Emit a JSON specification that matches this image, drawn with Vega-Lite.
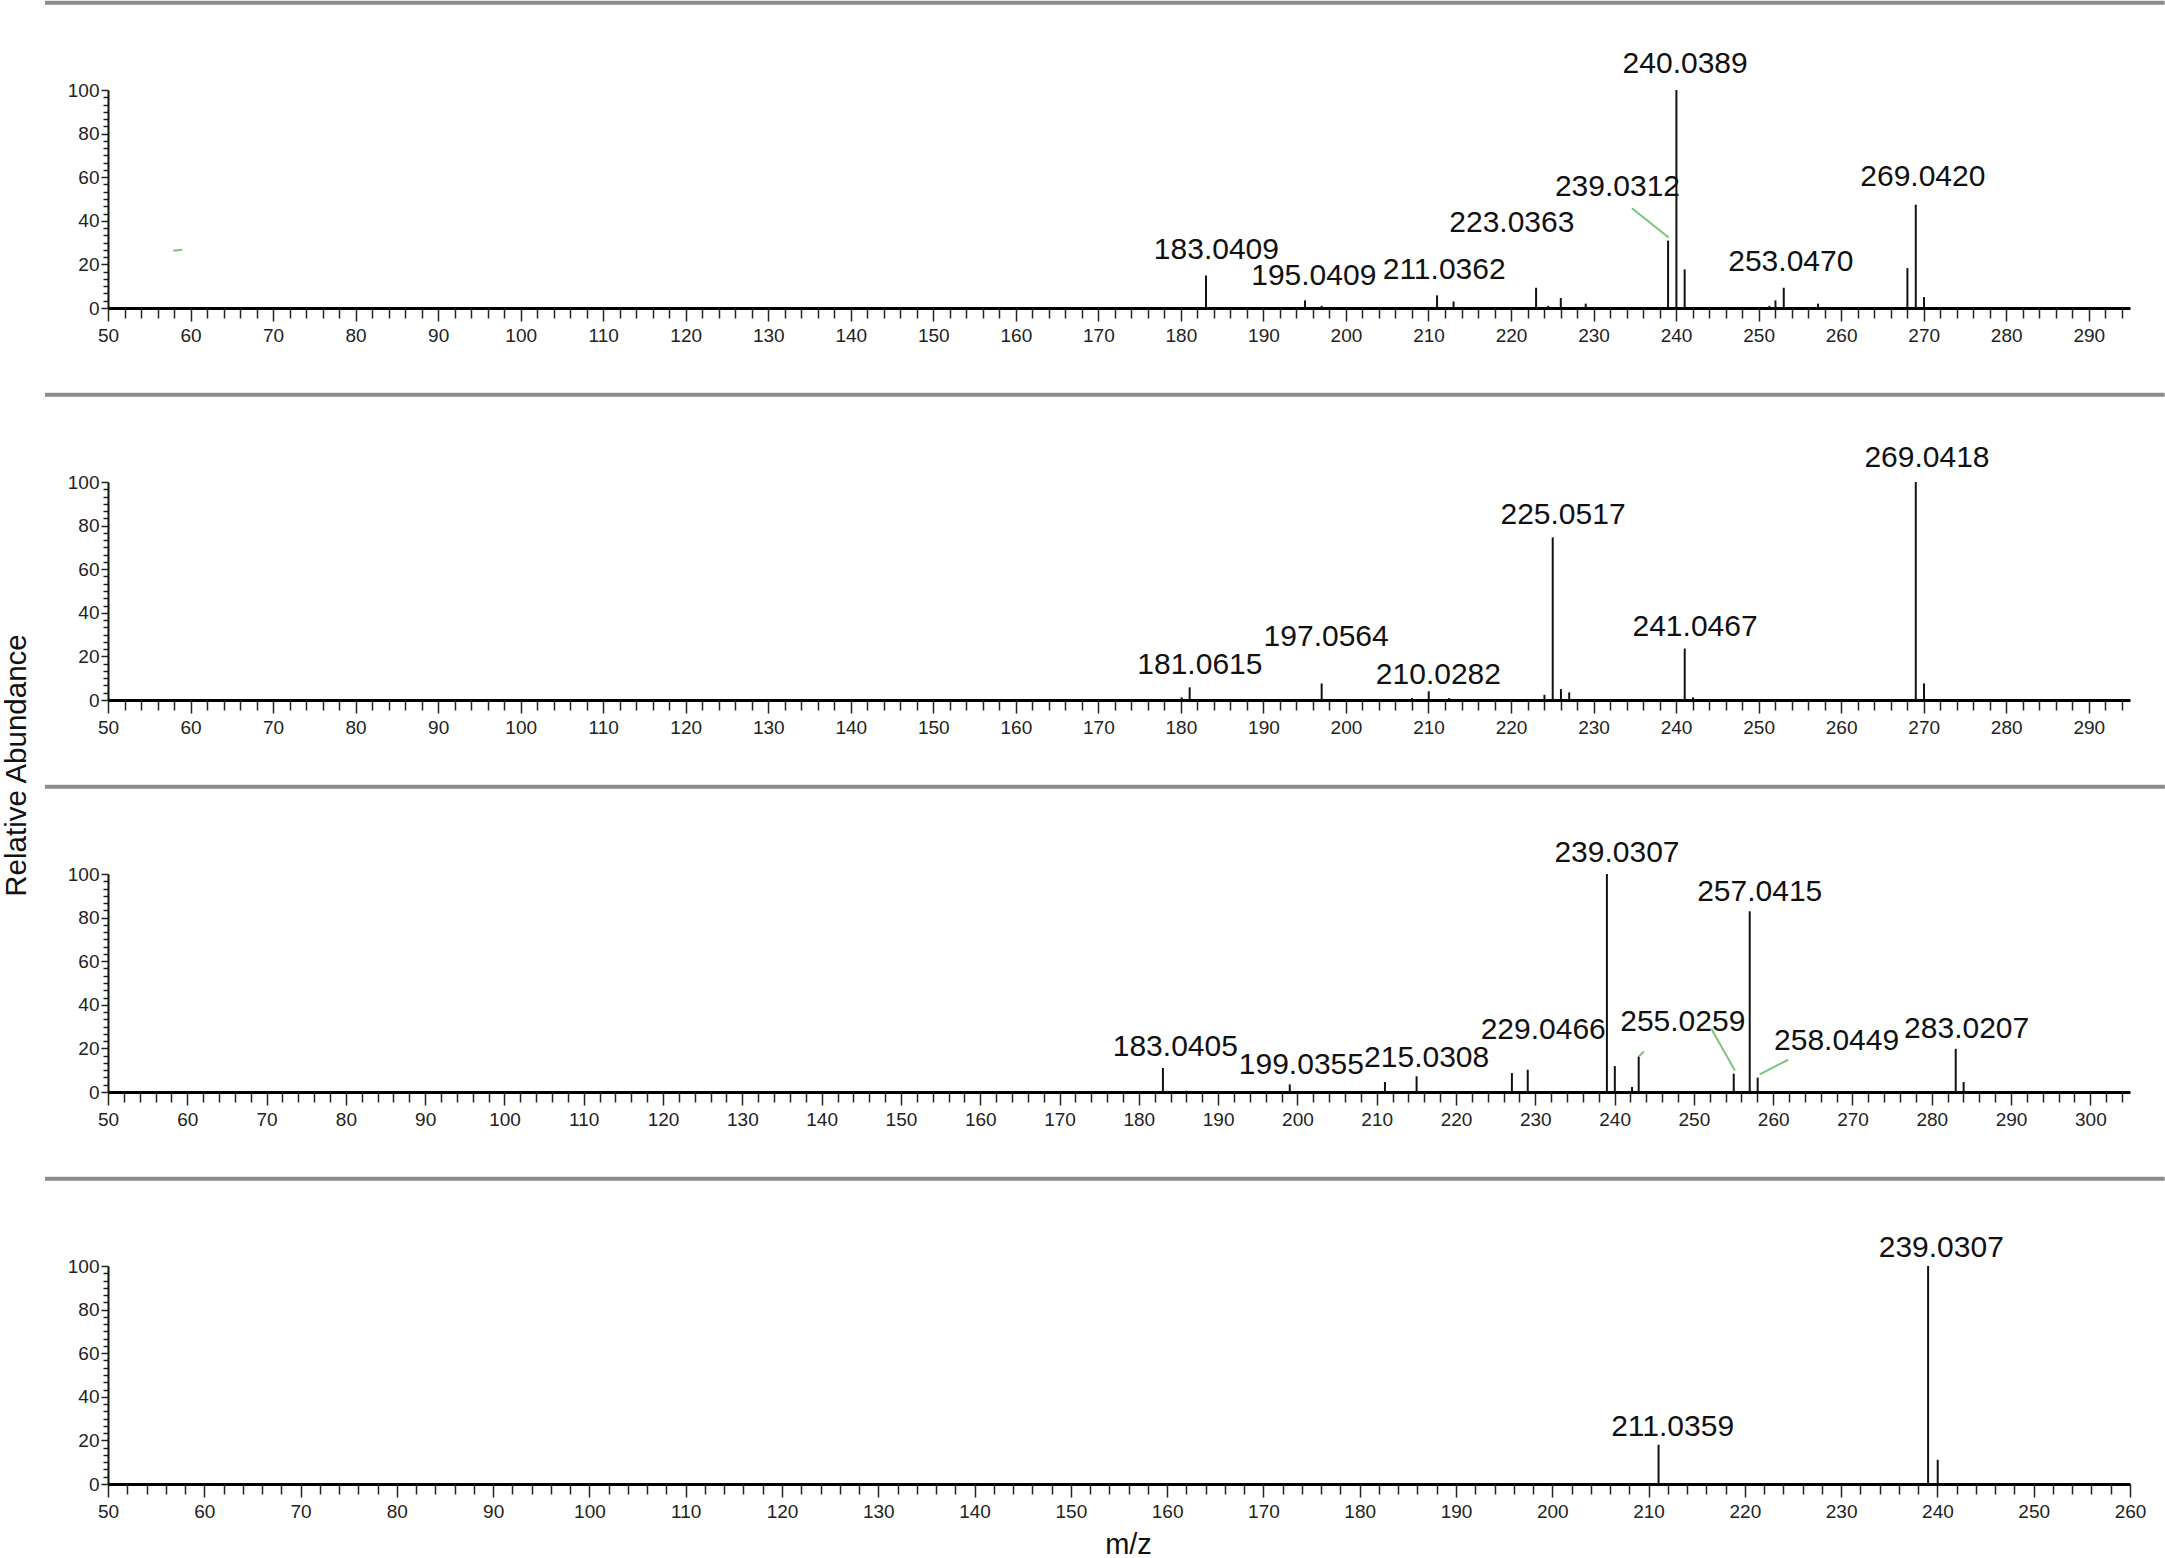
{
  "$schema": "https://vega.github.io/schema/vega-lite/v6.json",
  "padding": 0,
  "autosize": {"type": "pad"},
  "background": "white",
  "config": {
    "view": {"stroke": null},
    "axis": {
      "grid": false,
      "domainColor": "#111",
      "tickColor": "#222",
      "labelColor": "#222",
      "labelFont": "Liberation Sans Narrow, Liberation Sans, Arial, sans-serif",
      "labelFontSize": 19,
      "titleFont": "Liberation Sans, Arial, sans-serif",
      "titleFontWeight": "normal",
      "titleColor": "#111",
      "titleFontSize": 29.5
    }
  },
  "datasets": {
    "peaks": [
      {"panel": 1, "mz": 183.0409, "intensity": 14.9},
      {"panel": 1, "mz": 195.0409, "intensity": 3.5},
      {"panel": 1, "mz": 197.05, "intensity": 1.0},
      {"panel": 1, "mz": 211.0362, "intensity": 5.8},
      {"panel": 1, "mz": 213.04, "intensity": 3.0},
      {"panel": 1, "mz": 223.0363, "intensity": 9.3},
      {"panel": 1, "mz": 224.5, "intensity": 1.0},
      {"panel": 1, "mz": 226.03, "intensity": 4.6},
      {"panel": 1, "mz": 229.05, "intensity": 2.0},
      {"panel": 1, "mz": 239.0312, "intensity": 30.9},
      {"panel": 1, "mz": 240.0389, "intensity": 100},
      {"panel": 1, "mz": 241.04, "intensity": 17.7},
      {"panel": 1, "mz": 251.3, "intensity": 1.0},
      {"panel": 1, "mz": 252.04, "intensity": 3.5},
      {"panel": 1, "mz": 253.047, "intensity": 9.3},
      {"panel": 1, "mz": 257.2, "intensity": 2.0},
      {"panel": 1, "mz": 268.03, "intensity": 18.3},
      {"panel": 1, "mz": 269.042, "intensity": 47.4},
      {"panel": 1, "mz": 270.04, "intensity": 5.0},
      {"panel": 2, "mz": 180.1, "intensity": 1.2},
      {"panel": 2, "mz": 181.0615, "intensity": 5.8},
      {"panel": 2, "mz": 197.0564, "intensity": 7.6},
      {"panel": 2, "mz": 208.0, "intensity": 0.9},
      {"panel": 2, "mz": 210.0282, "intensity": 4.0},
      {"panel": 2, "mz": 212.5, "intensity": 0.9},
      {"panel": 2, "mz": 224.05, "intensity": 2.4},
      {"panel": 2, "mz": 225.0517, "intensity": 74.6},
      {"panel": 2, "mz": 226.05, "intensity": 5.0},
      {"panel": 2, "mz": 227.05, "intensity": 3.5},
      {"panel": 2, "mz": 241.0467, "intensity": 23.6},
      {"panel": 2, "mz": 242.05, "intensity": 1.2},
      {"panel": 2, "mz": 269.0418, "intensity": 100},
      {"panel": 2, "mz": 270.04, "intensity": 7.6},
      {"panel": 3, "mz": 183.0405, "intensity": 11.0},
      {"panel": 3, "mz": 186.0, "intensity": 0.6},
      {"panel": 3, "mz": 199.0355, "intensity": 3.5},
      {"panel": 3, "mz": 211.04, "intensity": 4.6},
      {"panel": 3, "mz": 215.0308, "intensity": 7.2},
      {"panel": 3, "mz": 227.05, "intensity": 8.7},
      {"panel": 3, "mz": 229.0466, "intensity": 10.2},
      {"panel": 3, "mz": 239.0307, "intensity": 100},
      {"panel": 3, "mz": 240.03, "intensity": 11.9},
      {"panel": 3, "mz": 242.2, "intensity": 2.3},
      {"panel": 3, "mz": 243.04, "intensity": 16.3},
      {"panel": 3, "mz": 255.0259, "intensity": 8.4},
      {"panel": 3, "mz": 257.0415, "intensity": 82.9},
      {"panel": 3, "mz": 258.0449, "intensity": 6.6},
      {"panel": 3, "mz": 283.0207, "intensity": 19.8},
      {"panel": 3, "mz": 284.02, "intensity": 4.6},
      {"panel": 4, "mz": 211.0359, "intensity": 18.0},
      {"panel": 4, "mz": 239.0307, "intensity": 100},
      {"panel": 4, "mz": 240.03, "intensity": 11.1}
    ],
    "labels": [
      {"panel": 1, "label": "183.0409", "label_mz": 184.3, "label_y": 22.4},
      {"panel": 1, "label": "195.0409", "label_mz": 196.1, "label_y": 10.4},
      {"panel": 1, "label": "211.0362", "label_mz": 211.9, "label_y": 13.2},
      {"panel": 1, "label": "223.0363", "label_mz": 220.1, "label_y": 35.0},
      {"panel": 1, "label": "239.0312", "label_mz": 232.9, "label_y": 51.2},
      {"panel": 1, "label": "240.0389", "label_mz": 241.1, "label_y": 108.0},
      {"panel": 1, "label": "253.0470", "label_mz": 253.9, "label_y": 16.9},
      {"panel": 1, "label": "269.0420", "label_mz": 269.9, "label_y": 55.8},
      {"panel": 2, "label": "181.0615", "label_mz": 182.3, "label_y": 11.8},
      {"panel": 2, "label": "197.0564", "label_mz": 197.6, "label_y": 24.8},
      {"panel": 2, "label": "210.0282", "label_mz": 211.2, "label_y": 7.2},
      {"panel": 2, "label": "225.0517", "label_mz": 226.3, "label_y": 80.9},
      {"panel": 2, "label": "241.0467", "label_mz": 242.3, "label_y": 29.4},
      {"panel": 2, "label": "269.0418", "label_mz": 270.4, "label_y": 106.9},
      {"panel": 3, "label": "183.0405", "label_mz": 184.6, "label_y": 16.3},
      {"panel": 3, "label": "199.0355", "label_mz": 200.5, "label_y": 8.1},
      {"panel": 3, "label": "215.0308", "label_mz": 216.3, "label_y": 11.5},
      {"panel": 3, "label": "229.0466", "label_mz": 231.0, "label_y": 24.4},
      {"panel": 3, "label": "239.0307", "label_mz": 240.3, "label_y": 105.3},
      {"panel": 3, "label": "255.0259", "label_mz": 248.6, "label_y": 27.9},
      {"panel": 3, "label": "257.0415", "label_mz": 258.3, "label_y": 87.5},
      {"panel": 3, "label": "258.0449", "label_mz": 268.0, "label_y": 19.4},
      {"panel": 3, "label": "283.0207", "label_mz": 284.4, "label_y": 24.9},
      {"panel": 4, "label": "211.0359", "label_mz": 212.5, "label_y": 22.1},
      {"panel": 4, "label": "239.0307", "label_mz": 240.4, "label_y": 104.0}
    ],
    "leaders": [
      {"panel": 1, "mz": 234.65, "intensity": 45.8, "mz2": 239.1, "intensity2": 32.3},
      {"panel": 1, "mz": 57.9, "intensity": 26.3, "mz2": 59.0, "intensity2": 26.7},
      {"panel": 3, "mz": 252.2, "intensity": 29.0, "mz2": 255.17, "intensity2": 9.9},
      {"panel": 3, "mz": 261.9, "intensity": 14.8, "mz2": 258.3, "intensity2": 8.1},
      {"panel": 3, "mz": 243.06, "intensity": 16.3, "mz2": 243.7, "intensity2": 18.6}
    ]
  },
  "spacing": 174,
  "bounds": "flush",
  "vconcat": [
    {
      "width": 2022,
      "height": 218,
      "layer": [
        {
          "data": {"name": "peaks"},
          "transform": [{"filter": "datum.panel === 1"}],
          "mark": {"type": "rule", "color": "#111", "strokeWidth": 2},
          "encoding": {
            "x": {"field": "mz", "type": "quantitative", "scale": {"domain": [50, 295], "nice": false, "zero": false},
              "axis": {"title": null, "tickCount": 1000, "values": [50,52,54,56,58,60,62,64,66,68,70,72,74,76,78,80,82,84,86,88,90,92,94,96,98,100,102,104,106,108,110,112,114,116,118,120,122,124,126,128,130,132,134,136,138,140,142,144,146,148,150,152,154,156,158,160,162,164,166,168,170,172,174,176,178,180,182,184,186,188,190,192,194,196,198,200,202,204,206,208,210,212,214,216,218,220,222,224,226,228,230,232,234,236,238,240,242,244,246,248,250,252,254,256,258,260,262,264,266,268,270,272,274,276,278,280,282,284,286,288,290,292,294],
                "format": "d", "labelExpr": "datum.value % 10 === 0 ? datum.label : ''",
                "tickSize": {"condition": {"test": "datum.value % 10 === 0", "value": 13}, "value": 10},
                "tickWidth": 1.5, "domainWidth": 3, "domainColor": "#000", "labelPadding": 5, "labelOverlap": false, "labelFlush": false, "labelBound": false}},
            "y": {"field": "intensity", "type": "quantitative", "scale": {"domain": [0, 100], "nice": false},
              "axis": {"title": null, "tickCount": 1000, "values": [0,3.333,6.667,10,13.333,16.667,20,23.333,26.667,30,33.333,36.667,40,43.333,46.667,50,53.333,56.667,60,63.333,66.667,70,73.333,76.667,80,83.333,86.667,90,93.333,96.667,100],
                "format": "d", "labelExpr": "datum.value % 20 === 0 ? datum.label : ''",
                "tickSize": {"condition": {"test": "datum.value % 20 === 0", "value": 7}, "value": 5},
                "tickWidth": 1.5, "domainWidth": 2, "labelPadding": 2, "labelOverlap": false, "labelFlush": false, "labelBound": false}},
            "y2": {"datum": 0}
          }
        },
        {
          "data": {"values": [{}]},
          "mark": {"type": "rule", "color": "#8c8c8c", "strokeWidth": 4},
          "encoding": {"x": {"datum": 42.37, "type": "quantitative"}, "x2": {"datum": 299.2}, "y": {"datum": 140, "type": "quantitative"}}
        },
        {
          "data": {"values": [{}]},
          "mark": {"type": "rule", "color": "white", "strokeWidth": 1},
          "encoding": {"x": {"datum": 36.98, "type": "quantitative"}, "x2": {"datum": 37.5}, "y": {"datum": 141.05, "type": "quantitative"}}
        },
        {
          "data": {"name": "leaders"},
          "transform": [{"filter": "datum.panel === 1"}],
          "mark": {"type": "rule", "color": "#7cc47c", "strokeWidth": 2},
          "encoding": {"x": {"field": "mz", "type": "quantitative"}, "x2": {"field": "mz2"}, "y": {"field": "intensity", "type": "quantitative"}, "y2": {"field": "intensity2"}}
        },
        {
          "data": {"name": "labels"},
          "transform": [{"filter": "datum.panel === 1"}],
          "mark": {"type": "text", "font": "Liberation Sans, Arial, sans-serif", "fontSize": 30, "align": "center", "baseline": "alphabetic", "color": "#111"},
          "encoding": {"x": {"field": "label_mz", "type": "quantitative"}, "y": {"field": "label_y", "type": "quantitative"}, "text": {"field": "label"}}
        }
      ]
    },
    {
      "width": 2022,
      "height": 218,
      "layer": [
        {
          "data": {"name": "peaks"},
          "transform": [{"filter": "datum.panel === 2"}],
          "mark": {"type": "rule", "color": "#111", "strokeWidth": 2},
          "encoding": {
            "x": {"field": "mz", "type": "quantitative", "scale": {"domain": [50, 295], "nice": false, "zero": false},
              "axis": {"title": null, "tickCount": 1000, "values": [50,52,54,56,58,60,62,64,66,68,70,72,74,76,78,80,82,84,86,88,90,92,94,96,98,100,102,104,106,108,110,112,114,116,118,120,122,124,126,128,130,132,134,136,138,140,142,144,146,148,150,152,154,156,158,160,162,164,166,168,170,172,174,176,178,180,182,184,186,188,190,192,194,196,198,200,202,204,206,208,210,212,214,216,218,220,222,224,226,228,230,232,234,236,238,240,242,244,246,248,250,252,254,256,258,260,262,264,266,268,270,272,274,276,278,280,282,284,286,288,290,292,294],
                "format": "d", "labelExpr": "datum.value % 10 === 0 ? datum.label : ''",
                "tickSize": {"condition": {"test": "datum.value % 10 === 0", "value": 13}, "value": 10},
                "tickWidth": 1.5, "domainWidth": 3, "domainColor": "#000", "labelPadding": 5, "labelOverlap": false, "labelFlush": false, "labelBound": false}},
            "y": {"field": "intensity", "type": "quantitative", "scale": {"domain": [0, 100], "nice": false},
              "axis": {"title": "Relative Abundance", "titleX": -83, "titleY": 283, "titleAngle": -90, "titleAlign": "center", "titleBaseline": "alphabetic",
                "tickCount": 1000, "values": [0,3.333,6.667,10,13.333,16.667,20,23.333,26.667,30,33.333,36.667,40,43.333,46.667,50,53.333,56.667,60,63.333,66.667,70,73.333,76.667,80,83.333,86.667,90,93.333,96.667,100],
                "format": "d", "labelExpr": "datum.value % 20 === 0 ? datum.label : ''",
                "tickSize": {"condition": {"test": "datum.value % 20 === 0", "value": 7}, "value": 5},
                "tickWidth": 1.5, "domainWidth": 2, "labelPadding": 2, "labelOverlap": false, "labelFlush": false, "labelBound": false}},
            "y2": {"datum": 0}
          }
        },
        {
          "data": {"values": [{}]},
          "mark": {"type": "rule", "color": "#8c8c8c", "strokeWidth": 4},
          "encoding": {"x": {"datum": 42.37, "type": "quantitative"}, "x2": {"datum": 299.2}, "y": {"datum": 140, "type": "quantitative"}}
        },
        {
          "data": {"name": "labels"},
          "transform": [{"filter": "datum.panel === 2"}],
          "mark": {"type": "text", "font": "Liberation Sans, Arial, sans-serif", "fontSize": 30, "align": "center", "baseline": "alphabetic", "color": "#111"},
          "encoding": {"x": {"field": "label_mz", "type": "quantitative"}, "y": {"field": "label_y", "type": "quantitative"}, "text": {"field": "label"}}
        }
      ]
    },
    {
      "width": 2022,
      "height": 218,
      "layer": [
        {
          "data": {"name": "peaks"},
          "transform": [{"filter": "datum.panel === 3"}],
          "mark": {"type": "rule", "color": "#111", "strokeWidth": 2},
          "encoding": {
            "x": {"field": "mz", "type": "quantitative", "scale": {"domain": [50, 305], "nice": false, "zero": false},
              "axis": {"title": null, "tickCount": 1000, "values": [50,52,54,56,58,60,62,64,66,68,70,72,74,76,78,80,82,84,86,88,90,92,94,96,98,100,102,104,106,108,110,112,114,116,118,120,122,124,126,128,130,132,134,136,138,140,142,144,146,148,150,152,154,156,158,160,162,164,166,168,170,172,174,176,178,180,182,184,186,188,190,192,194,196,198,200,202,204,206,208,210,212,214,216,218,220,222,224,226,228,230,232,234,236,238,240,242,244,246,248,250,252,254,256,258,260,262,264,266,268,270,272,274,276,278,280,282,284,286,288,290,292,294,296,298,300,302,304],
                "format": "d", "labelExpr": "datum.value % 10 === 0 ? datum.label : ''",
                "tickSize": {"condition": {"test": "datum.value % 10 === 0", "value": 13}, "value": 10},
                "tickWidth": 1.5, "domainWidth": 3, "domainColor": "#000", "labelPadding": 5, "labelOverlap": false, "labelFlush": false, "labelBound": false}},
            "y": {"field": "intensity", "type": "quantitative", "scale": {"domain": [0, 100], "nice": false},
              "axis": {"title": null, "tickCount": 1000, "values": [0,3.333,6.667,10,13.333,16.667,20,23.333,26.667,30,33.333,36.667,40,43.333,46.667,50,53.333,56.667,60,63.333,66.667,70,73.333,76.667,80,83.333,86.667,90,93.333,96.667,100],
                "format": "d", "labelExpr": "datum.value % 20 === 0 ? datum.label : ''",
                "tickSize": {"condition": {"test": "datum.value % 20 === 0", "value": 7}, "value": 5},
                "tickWidth": 1.5, "domainWidth": 2, "labelPadding": 2, "labelOverlap": false, "labelFlush": false, "labelBound": false}},
            "y2": {"datum": 0}
          }
        },
        {
          "data": {"values": [{}]},
          "mark": {"type": "rule", "color": "#8c8c8c", "strokeWidth": 4},
          "encoding": {"x": {"datum": 42.05, "type": "quantitative"}, "x2": {"datum": 309.4}, "y": {"datum": 140, "type": "quantitative"}}
        },
        {
          "data": {"name": "leaders"},
          "transform": [{"filter": "datum.panel === 3"}],
          "mark": {"type": "rule", "color": "#7cc47c", "strokeWidth": 2},
          "encoding": {"x": {"field": "mz", "type": "quantitative"}, "x2": {"field": "mz2"}, "y": {"field": "intensity", "type": "quantitative"}, "y2": {"field": "intensity2"}}
        },
        {
          "data": {"name": "labels"},
          "transform": [{"filter": "datum.panel === 3"}],
          "mark": {"type": "text", "font": "Liberation Sans, Arial, sans-serif", "fontSize": 30, "align": "center", "baseline": "alphabetic", "color": "#111"},
          "encoding": {"x": {"field": "label_mz", "type": "quantitative"}, "y": {"field": "label_y", "type": "quantitative"}, "text": {"field": "label"}}
        }
      ]
    },
    {
      "width": 2022,
      "height": 218,
      "layer": [
        {
          "data": {"name": "peaks"},
          "transform": [{"filter": "datum.panel === 4"}],
          "mark": {"type": "rule", "color": "#111", "strokeWidth": 2},
          "encoding": {
            "x": {"field": "mz", "type": "quantitative", "scale": {"domain": [50, 260], "nice": false, "zero": false},
              "axis": {"title": "m/z", "titleX": 1020, "titleY": 69, "titleAlign": "center", "titleBaseline": "alphabetic", "titleFontSize": 29,
                "tickCount": 1000, "values": [50,52,54,56,58,60,62,64,66,68,70,72,74,76,78,80,82,84,86,88,90,92,94,96,98,100,102,104,106,108,110,112,114,116,118,120,122,124,126,128,130,132,134,136,138,140,142,144,146,148,150,152,154,156,158,160,162,164,166,168,170,172,174,176,178,180,182,184,186,188,190,192,194,196,198,200,202,204,206,208,210,212,214,216,218,220,222,224,226,228,230,232,234,236,238,240,242,244,246,248,250,252,254,256,258,260],
                "format": "d", "labelExpr": "datum.value % 10 === 0 ? datum.label : ''",
                "tickSize": {"condition": {"test": "datum.value % 10 === 0", "value": 13}, "value": 10},
                "tickWidth": 1.5, "domainWidth": 3, "domainColor": "#000", "labelPadding": 5, "labelOverlap": false, "labelFlush": false, "labelBound": false}},
            "y": {"field": "intensity", "type": "quantitative", "scale": {"domain": [0, 100], "nice": false},
              "axis": {"title": null, "tickCount": 1000, "values": [0,3.333,6.667,10,13.333,16.667,20,23.333,26.667,30,33.333,36.667,40,43.333,46.667,50,53.333,56.667,60,63.333,66.667,70,73.333,76.667,80,83.333,86.667,90,93.333,96.667,100],
                "format": "d", "labelExpr": "datum.value % 20 === 0 ? datum.label : ''",
                "tickSize": {"condition": {"test": "datum.value % 20 === 0", "value": 7}, "value": 5},
                "tickWidth": 1.5, "domainWidth": 2, "labelPadding": 2, "labelOverlap": false, "labelFlush": false, "labelBound": false}},
            "y2": {"datum": 0}
          }
        },
        {
          "data": {"values": [{}]},
          "mark": {"type": "rule", "color": "#8c8c8c", "strokeWidth": 4},
          "encoding": {"x": {"datum": 43.46, "type": "quantitative"}, "x2": {"datum": 263.6}, "y": {"datum": 140, "type": "quantitative"}}
        },
        {
          "data": {"name": "labels"},
          "transform": [{"filter": "datum.panel === 4"}],
          "mark": {"type": "text", "font": "Liberation Sans, Arial, sans-serif", "fontSize": 30, "align": "center", "baseline": "alphabetic", "color": "#111"},
          "encoding": {"x": {"field": "label_mz", "type": "quantitative"}, "y": {"field": "label_y", "type": "quantitative"}, "text": {"field": "label"}}
        }
      ]
    }
  ]
}
